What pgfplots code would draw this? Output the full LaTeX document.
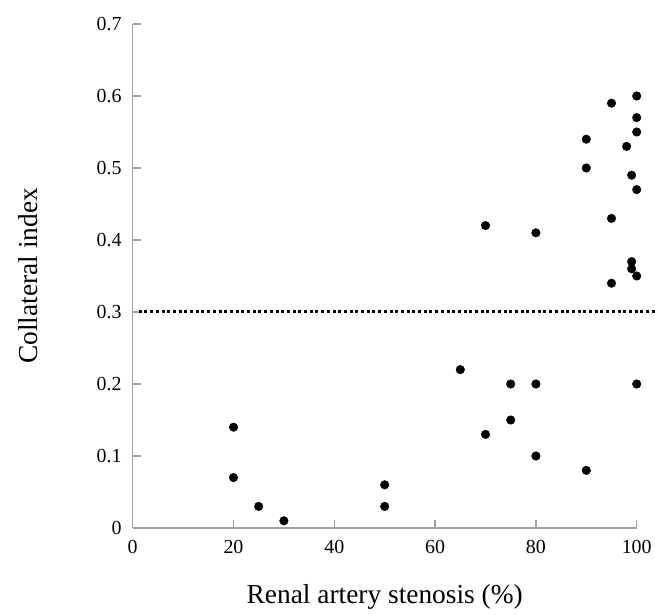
\documentclass[border=0pt]{standalone}
\usepackage{fontspec}
\setmainfont{Liberation Serif}
\usepackage{pgfplots}
\pgfplotsset{compat=1.18}

% collateral index against stenosis
\pgfplotstableread{
x y
20 0.14
20 0.07
25 0.03
30 0.01
50 0.06
50 0.03
65 0.22
70 0.42
70 0.13
75 0.20
75 0.15
80 0.41
80 0.20
80 0.10
90 0.54
90 0.50
90 0.08
95 0.59
95 0.43
95 0.34
98 0.53
99 0.49
99 0.37
99 0.36
100 0.60
100 0.57
100 0.55
100 0.47
100 0.35
100 0.20
}\pts

\definecolor{axgray}{HTML}{A0A0A0}

\begin{document}
\begin{tikzpicture}
\begin{axis}[
  x=5.04bp, y=720bp,
  xmin=0, xmax=100, ymin=0, ymax=0.7,
  enlargelimits=false,
  axis lines*=left,
  axis line style={axgray, line width=1.6bp},
  tick style={axgray, line width=1.4bp},
  major tick length=8bp,
  tick align=inside,
  xtick={0,20,40,60,80,100},
  ytick={0,0.1,0.2,0.3,0.4,0.5,0.6,0.7},
  /pgf/number format/assume math mode=true,
  /pgf/number format/fixed,
  ticklabel style={font=\fontsize{20}{23}\selectfont, inner sep=0pt},
  xticklabel style={yshift=-12bp},
  yticklabel style={xshift=-11bp},
  xlabel={Renal artery stenosis (\%)},
  ylabel={Collateral index},
  label style={font=\fontsize{27.5}{30}\selectfont},
  xlabel style={at={(axis description cs:0.5,-0.137)}, anchor=center},
  ylabel style={at={(axis description cs:-0.208,0.5)}, anchor=center},
  clip=false,
]
\addplot[black, line width=3bp, dash pattern=on 3bp off 2.7bp] coordinates {(1.2,0.3) (104,0.3)};
\addplot[only marks, mark=*, mark size=4.3bp, black] table {\pts};
\end{axis}
\pgfresetboundingbox
\path[use as bounding box] (-132.7bp,-87bp) rectangle (522.3bp,528bp);
\end{tikzpicture}
\end{document}
